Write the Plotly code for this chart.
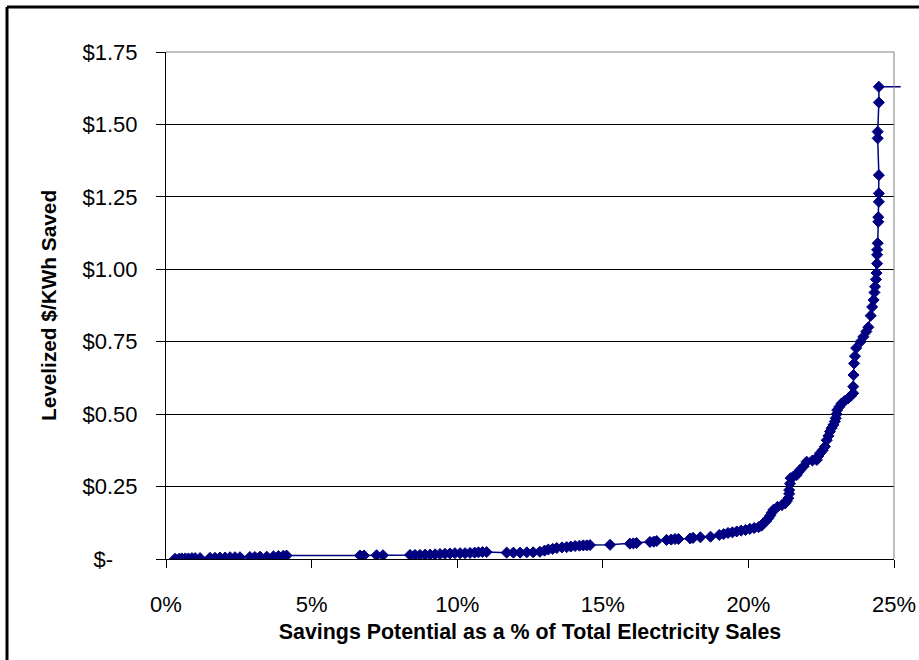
import plotly.graph_objects as go

# Savings potential (% of total electricity sales) and levelized cost ($/kWh saved)
savings_pct = [
    0.31, 0.45, 0.54, 0.66, 0.77, 0.89, 1.00, 1.17, 1.51, 1.68, 1.85, 2.03, 2.20, 2.37, 2.54,
    2.88, 3.05, 3.23, 3.46, 3.69, 3.86, 4.03, 4.14, 6.66, 6.80, 7.23, 7.45, 8.38, 8.55, 8.72,
    8.90, 9.07, 9.24, 9.41, 9.58, 9.75, 9.92, 10.10, 10.27, 10.44, 10.60, 10.73, 10.87, 11.01,
    11.70, 11.93, 12.16, 12.39, 12.61, 12.84, 13.00, 13.13, 13.28, 13.42, 13.60, 13.76, 13.90,
    14.05, 14.20, 14.33, 14.45, 14.56, 15.25, 15.93, 16.05, 16.16, 16.62, 16.75, 16.85, 17.19,
    17.35, 17.48, 17.60, 18.00, 18.10, 18.35, 18.70, 19.00, 19.15, 19.30, 19.45, 19.60, 19.75,
    19.90, 20.05, 20.20, 20.35, 20.45, 20.51, 20.60, 20.68, 20.75, 20.80, 20.86, 21.00, 21.15,
    21.26, 21.32, 21.37, 21.40, 21.40, 21.43, 21.45, 21.55, 21.66, 21.72, 21.77, 21.90, 22.00,
    22.20, 22.35, 22.40, 22.46, 22.55, 22.63, 22.69, 22.75, 22.80, 22.86, 22.92, 22.97, 23.00,
    23.03, 23.05, 23.12, 23.20, 23.30, 23.43, 23.52, 23.60, 23.60, 23.61, 23.63, 23.66, 23.70,
    23.85, 23.95, 24.05, 24.12, 24.20, 24.25, 24.30, 24.33, 24.35, 24.38, 24.40, 24.42, 24.42,
    24.42, 24.44, 24.46, 24.46, 24.48, 24.48, 24.48, 24.44, 24.44, 24.48, 24.48,
]
cost_per_kwh = [
    0.001, 0.001, 0.002, 0.002, 0.002, 0.003, 0.003, 0.003, 0.004, 0.004, 0.005, 0.005, 0.006, 0.006, 0.006,
    0.007, 0.007, 0.008, 0.008, 0.009, 0.010, 0.011, 0.012, 0.012, 0.012, 0.013, 0.013, 0.014, 0.014, 0.014,
    0.015, 0.015, 0.016, 0.017, 0.018, 0.019, 0.020, 0.020, 0.020, 0.021, 0.022, 0.023, 0.024, 0.024,
    0.022, 0.022, 0.022, 0.023, 0.023, 0.025, 0.029, 0.033, 0.035, 0.038, 0.040, 0.041, 0.043,
    0.045, 0.046, 0.047, 0.047, 0.048, 0.049, 0.053, 0.054, 0.055, 0.059, 0.060, 0.062, 0.066,
    0.067, 0.069, 0.069, 0.071, 0.073, 0.075, 0.077, 0.083, 0.086, 0.090, 0.092, 0.095, 0.098,
    0.100, 0.104, 0.107, 0.110, 0.115, 0.123, 0.130, 0.140, 0.150, 0.160, 0.170, 0.180, 0.186,
    0.192, 0.200, 0.210, 0.225, 0.238, 0.260, 0.279, 0.285, 0.290, 0.300, 0.307, 0.320, 0.336,
    0.340, 0.342, 0.355, 0.365, 0.375, 0.388, 0.410, 0.425, 0.440, 0.452, 0.463, 0.475, 0.486,
    0.500, 0.514, 0.525, 0.537, 0.545, 0.555, 0.563, 0.572, 0.595, 0.635, 0.675, 0.700, 0.728,
    0.750, 0.767, 0.785, 0.800, 0.840, 0.870, 0.894, 0.920, 0.940, 0.965, 0.987, 1.020, 1.050,
    1.067, 1.090, 1.164, 1.180, 1.233, 1.262, 1.325, 1.452, 1.475, 1.576, 1.630,
]
# final segment of the curve runs past the axis maximum (no marker drawn there)
overflow_pct = [25.23]
overflow_cost = [1.630]

x_tick_vals = [0, 5, 10, 15, 20, 25]
x_tick_text = ["0%", "5%", "10%", "15%", "20%", "25%"]
y_tick_vals = [0, 0.25, 0.5, 0.75, 1.0, 1.25, 1.5, 1.75]
y_tick_text = ["$-\u00a0\u00a0\u00a0\u00a0", "$0.25", "$0.50", "$0.75", "$1.00", "$1.25", "$1.50", "$1.75"]

X_MAX = 25
Y_MAX = 1.75
NAVY = "#000080"
FONT = "Liberation Sans, Arial, sans-serif"

fig = go.Figure()
fig.add_trace(go.Scatter(
    x=savings_pct, y=cost_per_kwh, mode="lines+markers",
    line=dict(color=NAVY, width=1.5),
    marker=dict(symbol="diamond", size=8.5, color=NAVY, line=dict(color=NAVY, width=1)),
    showlegend=False, hoverinfo="x+y",
))

shapes = [
    # overflow of the line beyond the plot area (unclipped horizontally)
    dict(type="line", xref="paper", yref="y",
         x0=savings_pct[-1] / X_MAX, x1=overflow_pct[0] / X_MAX,
         y0=cost_per_kwh[-1], y1=overflow_cost[0],
         line=dict(color=NAVY, width=1.5), layer="above"),
    # grey plot-area border (top and right)
    dict(type="line", xref="paper", yref="paper", x0=0, x1=1, y0=1, y1=1,
         line=dict(color="#808080", width=1), layer="above"),
    dict(type="line", xref="paper", yref="paper", x0=1, x1=1, y0=0, y1=1,
         line=dict(color="#808080", width=1), layer="above"),
    # chart-area border (left and top edges visible; right/bottom run off the page)
    dict(type="line", xref="paper", yref="paper", x0=-0.2184, x1=-0.2184, y0=1.0888, y1=-0.3,
         line=dict(color="black", width=3), layer="above"),
    dict(type="line", xref="paper", yref="paper", x0=-0.2184, x1=1.1, y0=1.0888, y1=1.0888,
         line=dict(color="black", width=3), layer="above"),
]

fig.update_layout(
    width=919, height=660,
    margin=dict(l=166, r=25, t=52, b=101, pad=0),
    paper_bgcolor="white", plot_bgcolor="white",
    font=dict(family=FONT, size=22, color="black"),
    shapes=shapes,
    xaxis=dict(
        range=[0, X_MAX], tickvals=x_tick_vals, ticktext=x_tick_text,
        automargin=False,
        showgrid=False, zeroline=False,
        showline=True, linecolor="black", linewidth=1,
        ticks="outside", ticklen=8, tickcolor="black", tickwidth=1,
        ticklabelstandoff=18,
        tickfont=dict(size=22),
        title=dict(text="<b>Savings Potential as a % of Total Electricity Sales</b>",
                   font=dict(size=21.4), standoff=7),
    ),
    yaxis=dict(
        range=[0, Y_MAX], tickvals=y_tick_vals, ticktext=y_tick_text,
        automargin=False,
        showgrid=True, gridcolor="black", gridwidth=1, zeroline=False,
        showline=True, linecolor="black", linewidth=1,
        ticks="outside", ticklen=9, tickcolor="black", tickwidth=1,
        ticklabelstandoff=14,
        tickfont=dict(size=22),
        title=dict(text="<b>Levelized $/KWh Saved</b>", font=dict(size=20.8), standoff=20),
    ),
)

fig.write_html(
    "out.html",
    config={"displayModeBar": False},
    post_script="document.body.style.margin='0';document.body.style.overflow='hidden';",
)
